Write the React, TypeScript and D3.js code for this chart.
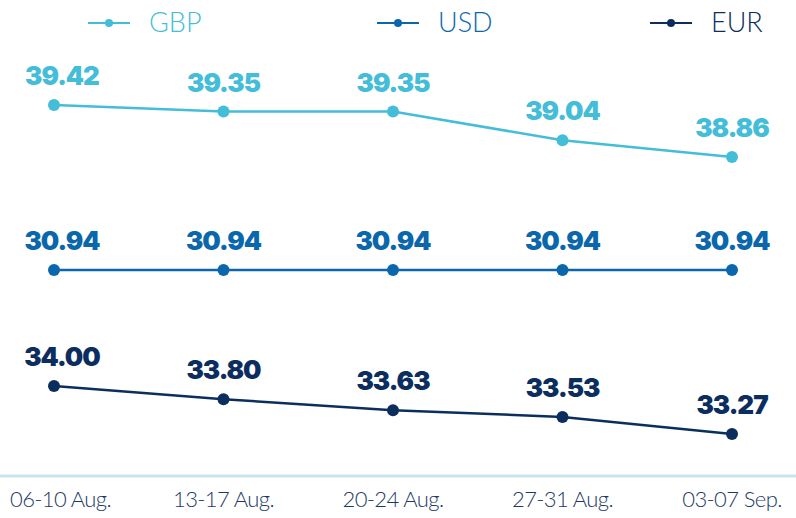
import * as d3 from 'd3';
import { useEffect, useRef } from 'react';

const weeks = ['06-10 Aug.', '13-17 Aug.', '20-24 Aug.', '27-31 Aug.', '03-07 Sep.'];
const gbp = [39.42, 39.35, 39.35, 39.04, 38.86];
const usd = [30.94, 30.94, 30.94, 30.94, 30.94];
const eur = [34.0, 33.8, 33.63, 33.53, 33.27];
const seriesNames = ['GBP', 'USD', 'EUR'];

export default function App() {
    const ref = useRef<HTMLDivElement>(null);

    useEffect(() => {
        document.body.style.margin = '0';
        const width = 796;
        const height = 518;
        const colors = ['#44bdd9', '#0b67ab', '#0c2e5e'];

        const svg = d3.create('svg')
            .attr('width', width)
            .attr('height', height)
            .style('display', 'block');

        const x = d3.scalePoint<string>()
            .domain(weeks)
            .range([54, 732]);

        // every series sits in its own band, no shared value axis
        const series = [
            { name: seriesNames[0], values: gbp, color: colors[0], y: d3.scaleLinear().domain([38.86, 39.42]).range([157, 105]) },
            { name: seriesNames[1], values: usd, color: colors[1], y: d3.scaleLinear().domain([30.94, 31.94]).range([270, 200]) },
            { name: seriesNames[2], values: eur, color: colors[2], y: d3.scaleLinear().domain([33.27, 34.0]).range([434, 386]) },
        ];

        // legend
        const legend = svg.append('g').attr('transform', 'translate(0,23)');
        const legendX = [88, 377, 650];
        series.forEach((s, i) => {
            const g = legend.append('g').attr('transform', `translate(${legendX[i]},0)`);
            g.append('line').attr('x1', 0).attr('x2', 42).attr('stroke', s.color).attr('stroke-width', 2);
            g.append('circle').attr('cx', 21).attr('r', 4).attr('fill', s.color);
            g.append('text')
                .attr('x', 61)
                .attr('y', 9)
                .attr('font-family', 'Lato')
                .attr('font-weight', 300)
                .attr('font-size', 27)
                .attr('fill', s.color)
                .text(s.name);
        });

        // baseline
        svg.append('line')
            .attr('x1', 0)
            .attr('x2', width)
            .attr('y1', 476)
            .attr('y2', 476)
            .attr('stroke', '#c9e3ef')
            .attr('stroke-width', 3);

        svg.append('g')
            .selectAll('text')
            .data(weeks)
            .join('text')
            .attr('x', (d, i) => i === 0 ? 10 : x(d)!)
            .attr('y', 507)
            .attr('text-anchor', (d, i) => i === 0 ? 'start' : 'middle')
            .attr('font-family', 'Lato')
            .attr('font-weight', 300)
            .attr('font-size', 22)
            .attr('letter-spacing', -0.6)
            .attr('fill', '#1d3a66')
            .text(d => d);

        const line = d3.line<number>();

        series.forEach(s => {
            const g = svg.append('g');
            g.append('path')
                .attr('d', line.x((d, i) => x(weeks[i])!).y(d => s.y(d))(s.values))
                .attr('fill', 'none')
                .attr('stroke', s.color)
                .attr('stroke-width', 2.5);

            g.selectAll('circle')
                .data(s.values)
                .join('circle')
                .attr('cx', (d, i) => x(weeks[i])!)
                .attr('cy', d => s.y(d))
                .attr('r', 6)
                .attr('fill', s.color);

            g.selectAll('text')
                .data(s.values)
                .join('text')
                .attr('x', (d, i) => x(weeks[i])! + (i === 0 ? 8 : 0))
                .attr('y', d => s.y(d) - 20)
                .attr('text-anchor', 'middle')
                .attr('font-family', 'Inter')
                .attr('font-weight', 900)
                .attr('font-size', 26)
                .attr('letter-spacing', -1)
                .attr('fill', s.color)
                .text(d => d.toFixed(2));
        });

        ref.current!.innerHTML = '';
        ref.current!.append(svg.node()!);
    }, []);

    return <div ref={ref}></div>;
}
